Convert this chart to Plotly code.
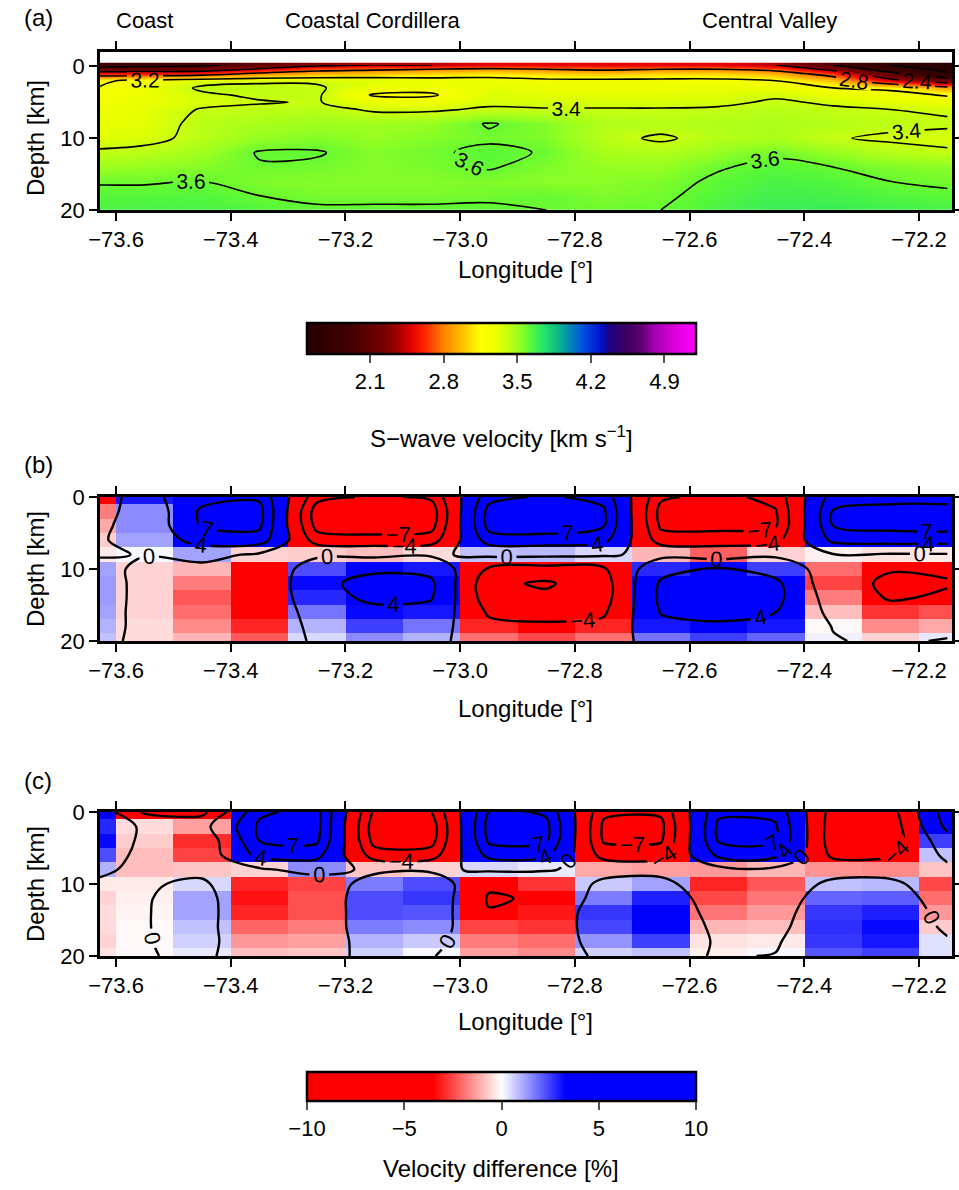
import plotly.graph_objects as go

# ---------------- data ----------------
LON = [-73.65, -73.55, -73.45, -73.35, -73.25, -73.15, -73.05, -72.95,
       -72.85, -72.75, -72.65, -72.55, -72.45, -72.35, -72.25, -72.15]

LON_TICKS = [-73.6, -73.4, -73.2, -73.0, -72.8, -72.6, -72.4, -72.2]
DEPTH_TICKS = [0, 10, 20]

# (a) S-wave velocity [km/s]; rows = depth nodes, columns = LON
DEPTH_A = [-0.2, 0.4, 1, 2, 3, 4, 5, 6, 8, 10, 12, 14, 16, 18, 20]
VS = [
    [1.90, 1.90, 1.95, 2.10, 2.30, 2.40, 2.40, 2.50, 2.50, 2.50, 2.50, 2.50, 2.40, 2.00, 1.60, 1.50],
    [2.10, 2.15, 2.20, 2.45, 2.70, 2.75, 2.80, 2.85, 2.80, 2.75, 2.80, 2.80, 2.70, 2.30, 1.80, 1.50],
    [2.60, 2.60, 2.65, 2.85, 2.95, 3.00, 3.05, 3.10, 3.05, 3.00, 3.05, 3.05, 2.95, 2.65, 2.10, 1.65],
    [3.15, 3.25, 3.35, 3.38, 3.38, 3.35, 3.30, 3.28, 3.25, 3.25, 3.25, 3.25, 3.20, 3.00, 2.50, 2.20],
    [3.18, 3.30, 3.42, 3.43, 3.42, 3.30, 3.25, 3.32, 3.30, 3.30, 3.30, 3.31, 3.30, 3.20, 3.15, 2.90],
    [3.20, 3.30, 3.38, 3.42, 3.42, 3.18, 3.18, 3.35, 3.33, 3.33, 3.33, 3.34, 3.38, 3.30, 3.28, 3.18],
    [3.25, 3.30, 3.36, 3.39, 3.41, 3.30, 3.28, 3.37, 3.36, 3.36, 3.36, 3.37, 3.42, 3.38, 3.33, 3.30],
    [3.28, 3.32, 3.41, 3.43, 3.45, 3.38, 3.38, 3.42, 3.41, 3.41, 3.41, 3.42, 3.44, 3.42, 3.40, 3.38],
    [3.30, 3.33, 3.44, 3.48, 3.50, 3.50, 3.52, 3.61, 3.55, 3.46, 3.45, 3.46, 3.47, 3.45, 3.43, 3.42],
    [3.33, 3.36, 3.44, 3.52, 3.55, 3.52, 3.55, 3.58, 3.56, 3.44, 3.38, 3.45, 3.47, 3.41, 3.38, 3.36],
    [3.42, 3.44, 3.50, 3.61, 3.61, 3.55, 3.58, 3.63, 3.59, 3.48, 3.46, 3.52, 3.58, 3.52, 3.45, 3.42],
    [3.50, 3.52, 3.55, 3.59, 3.58, 3.55, 3.57, 3.61, 3.56, 3.52, 3.52, 3.59, 3.63, 3.60, 3.56, 3.54],
    [3.59, 3.59, 3.60, 3.56, 3.55, 3.55, 3.55, 3.56, 3.54, 3.54, 3.56, 3.62, 3.66, 3.64, 3.60, 3.58],
    [3.63, 3.63, 3.64, 3.60, 3.57, 3.57, 3.57, 3.58, 3.60, 3.56, 3.58, 3.64, 3.68, 3.67, 3.64, 3.62],
    [3.66, 3.66, 3.66, 3.64, 3.62, 3.62, 3.62, 3.62, 3.60, 3.59, 3.60, 3.66, 3.70, 3.70, 3.68, 3.66],
]

# (b), (c) velocity difference [%]
DEPTH_BC = [0, 2, 4, 6, 8, 10, 12, 14, 16, 18, 20]
DV_B = [
    [-4.5, 3.0, 6.0, 6.5, -6.0, -7.5, -6.5, 6.0, 7.5, 6.0, -6.5, -8.0, -6.0, 5.5, 6.0, 6.0],
    [-1.8, 1.5, 7.5, 8.0, -8.5, -9.0, -8.5, 8.0, 9.0, 7.5, -8.0, -8.5, -7.2, 7.2, 8.0, 8.0],
    [-1.2, 1.5, 7.3, 7.5, -8.0, -8.5, -8.0, 8.0, 8.5, 7.2, -7.5, -8.0, -7.2, 7.0, 7.8, 8.0],
    [-0.7, 1.2, 5.5, 5.8, -5.5, -6.0, -5.5, 5.5, 5.8, 5.0, -5.5, -5.2, -5.0, 4.8, 5.5, 5.5],
    [-0.3, 0.1, 1.2, -0.6, -0.7, -0.9, -0.5, 0.8, 0.9, 0.5, -1.0, -2.2, -0.6, -0.2, -0.4, -0.3],
    [1.2, -0.6, -1.0, -3.6, 2.3, 3.5, 3.0, -4.5, -5.5, -4.5, 2.8, 4.5, 2.5, -2.0, -3.8, -3.6],
    [1.3, -0.6, -1.8, -3.8, 3.2, 5.0, 4.6, -6.5, -7.3, -5.5, 4.5, 6.0, 4.8, -2.6, -4.6, -4.2],
    [1.3, -0.6, -2.3, -3.8, 2.8, 4.6, 4.2, -6.0, -6.5, -5.5, 4.8, 6.5, 5.0, -1.8, -4.3, -3.6],
    [1.2, -0.6, -2.0, -3.6, 1.8, 3.2, 3.0, -4.5, -5.0, -4.5, 4.2, 5.2, 4.0, -0.9, -2.8, -2.4],
    [1.0, -0.5, -1.6, -3.0, 1.0, 2.5, 1.8, -3.0, -3.5, -3.0, 3.0, 3.3, 3.0, -0.1, -1.6, -1.2],
    [0.8, -0.5, -1.0, -2.3, 0.5, 1.5, 1.0, -2.0, -2.5, -2.0, 1.8, 2.5, 2.0, 0.2, -0.6, 0.3],
]
DV_C = [
    [4.0, -4.5, -5.0, 6.5, 8.0, -7.5, -7.0, 7.0, 6.5, -6.5, -6.5, 6.5, 6.3, -5.5, -5.5, 6.0],
    [2.8, -0.5, -1.3, 7.5, 8.0, -8.5, -8.5, 8.0, 7.8, -7.5, -7.8, 7.5, 7.3, -6.0, -6.2, 5.0],
    [3.2, -0.7, -2.9, 7.0, 7.5, -8.0, -8.0, 7.5, 7.3, -7.3, -7.3, 7.2, 7.3, -6.0, -6.0, 2.5],
    [2.3, -0.9, -2.6, 5.0, 5.0, -5.5, -5.5, 5.0, 4.5, -5.2, -5.2, 4.8, 4.8, -4.8, -4.5, 0.8],
    [1.0, -0.9, -0.8, -0.6, 1.5, -0.8, -0.6, 0.5, 0.3, -1.2, -1.3, -1.4, -1.0, -1.5, -1.6, -0.8],
    [-0.3, -0.3, 0.5, -3.0, -2.6, 1.7, 2.3, -3.5, -2.8, 0.7, 1.2, -3.0, -2.3, 0.8, 0.9, -2.5],
    [-0.6, -0.2, 1.2, -3.3, -2.4, 2.3, 2.6, -4.3, -3.6, 1.7, 2.9, -2.5, -1.9, 2.0, 2.1, -2.0],
    [-0.5, -0.15, 1.2, -3.0, -2.4, 2.3, 2.2, -3.8, -3.2, 2.6, 3.8, -1.9, -1.4, 2.6, 2.9, -1.4],
    [-0.5, -0.1, 0.8, -2.1, -1.8, 1.7, 1.5, -2.6, -2.8, 2.4, 3.6, -1.0, -0.9, 2.7, 3.2, -0.7],
    [-0.6, -0.1, 0.6, -1.4, -1.3, 1.0, 0.7, -1.8, -2.0, 1.4, 2.5, -0.4, -0.3, 2.6, 3.0, 0.4],
    [-0.4, -0.1, 0.3, -0.9, -0.8, 0.6, 0.1, -1.3, -1.6, 0.6, 0.8, -0.2, 0.1, 2.2, 2.5, 0.4],
]

REGIONS = ["Coast", "Coastal Cordillera", "Central Valley"]
REGION_LON = [-73.55, -73.152, -72.46]

VS_TICKS = [2.1, 2.8, 3.5, 4.2, 4.9]
DV_TICKS = [-10, -5, 0, 5, 10]

# ---------------- styling ----------------
W, H = 959, 1190
FONT = "Liberation Sans"

VS_SCALE = [[0, '#280000'], [0.11, '#400000'], [0.21, '#800000'], [0.24, '#b00000'],
            [0.265, '#e00000'], [0.30, '#ff2000'], [0.35, '#ff8000'], [0.40, '#ffc000'],
            [0.445, '#ffff00'], [0.49, '#eaff00'], [0.515, '#c8ff10'], [0.545, '#98ff20'],
            [0.575, '#58f838'], [0.605, '#28e868'], [0.64, '#10c080'], [0.67, '#0090b0'],
            [0.71, '#0050e0'], [0.755, '#0010d0'], [0.78, '#200080'], [0.825, '#400060'],
            [0.86, '#600070'], [0.89, '#a000b0'], [0.93, '#d000d0'], [1, '#ff00ff']]
DV_SCALE = [[0, '#ff0000'], [0.325, '#ff0000'], [0.5, '#ffffff'], [0.665, '#0000ff'], [1, '#0000ff']]


def px_x(p):
    return p / W


def px_y(p):
    return 1 - p / H


X_DOM = [px_x(100), px_x(952)]
PANELS = [  # (top px, bottom px)
    (52, 210), (497, 641), (812, 956)
]

fig = go.Figure()

# panel (a)
fig.add_trace(go.Heatmap(x=LON, y=DEPTH_A, z=VS, coloraxis='coloraxis', zsmooth='best',
                         xaxis='x', yaxis='y', hoverinfo='skip'))
for start, end, size in [(1.6, 3.2, 0.4), (3.4, 3.6, 0.2)]:
    fig.add_trace(go.Contour(x=LON, y=DEPTH_A, z=VS, xaxis='x', yaxis='y', showscale=False,
                             contours=dict(start=start, end=end, size=size, coloring='none',
                                           showlabels=True, labelformat='.1f',
                                           labelfont=dict(size=21, color='black', family=FONT)),
                             line=dict(color='black', width=1.6), hoverinfo='skip'))

# panels (b), (c)
for k, grid in [(2, DV_B), (3, DV_C)]:
    fig.add_trace(go.Heatmap(x=LON, y=DEPTH_BC, z=grid, coloraxis='coloraxis2',
                             xaxis='x%d' % k, yaxis='y%d' % k, hoverinfo='skip'))
    for start, end, size in [(-7, 7, 14), (-4, 4, 8), (0, 0, 1)]:
        fig.add_trace(go.Contour(x=LON, y=DEPTH_BC, z=grid, xaxis='x%d' % k, yaxis='y%d' % k,
                                 showscale=False,
                                 contours=dict(start=start, end=end, size=size, coloring='none',
                                               showlabels=True, labelformat='.0f',
                                               labelfont=dict(size=22, color='black', family=FONT)),
                                 line=dict(color='black', width=2.4), hoverinfo='skip'))

axis_common = dict(showline=True, mirror='ticks', linewidth=2.5, linecolor='black',
                   ticks='outside', ticklen=8, tickwidth=1.5, tickcolor='black',
                   showgrid=False, zeroline=False, tickfont=dict(size=22, color='black', family=FONT))

layout = dict(width=W, height=H, margin=dict(l=0, r=0, t=0, b=0, autoexpand=False),
              paper_bgcolor='white', plot_bgcolor='white',
              font=dict(family=FONT, color='black'), showlegend=False)

yranges = [[20, -2], [20, 0], [20, 0]]
for i, (top, bot) in enumerate(PANELS):
    sfx = '' if i == 0 else str(i + 1)
    layout['xaxis' + sfx] = dict(domain=X_DOM, range=[-73.628, -72.1425], tickmode='array',
                                 tickvals=LON_TICKS, tickformat='.1f',
                                 anchor='y' + sfx, **axis_common)
    layout['yaxis' + sfx] = dict(domain=[px_y(bot), px_y(top)], range=yranges[i],
                                 tickmode='array', tickvals=DEPTH_TICKS,
                                 anchor='x' + sfx, **axis_common)

cb_common = dict(orientation='h', x=px_x(307), xanchor='left', yanchor='top',
                 len=389, lenmode='pixels', thicknessmode='pixels',
                 outlinewidth=2.5, outlinecolor='black', ticks='outside', ticklen=8,
                 tickwidth=1.5, tickcolor='#555', xpad=0, ypad=0,
                 tickfont=dict(size=22, color='black', family=FONT))
layout['coloraxis'] = dict(colorscale=VS_SCALE, cmin=1.5, cmax=5.2,
                           colorbar=dict(y=px_y(323), thickness=31, tickvals=VS_TICKS,
                                         tickmode='array', **cb_common))
layout['coloraxis2'] = dict(colorscale=DV_SCALE, cmin=-10, cmax=10,
                            colorbar=dict(y=px_y(1072), thickness=29, tickvals=DV_TICKS,
                                          tickmode='array', **cb_common))

ann = []
for lab, ypx in [("(a)", 18), ("(b)", 465), ("(c)", 780)]:
    ann.append(dict(text=lab, x=px_x(38), y=px_y(ypx), xref='paper', yref='paper',
                    showarrow=False, font=dict(size=24), xanchor='center', yanchor='middle'))
for (top, bot), ly in zip(PANELS, [270, 708, 1022]):
    ann.append(dict(text="Longitude [°]", x=px_x(525), y=px_y(ly), xref='paper', yref='paper',
                    showarrow=False, font=dict(size=24), xanchor='center', yanchor='middle'))
    ann.append(dict(text="Depth [km]", x=px_x(35), y=px_y((top + bot) / 2 + (7 if top == 52 else 0)),
                    xref='paper', yref='paper', textangle=-90,
                    showarrow=False, font=dict(size=24), xanchor='center', yanchor='middle'))
for name, lon in zip(REGIONS, REGION_LON):
    ann.append(dict(text=name, x=lon, y=px_y(20), xref='x', yref='paper', showarrow=False,
                    font=dict(size=22), xanchor='center', yanchor='middle'))
ann.append(dict(text="S−wave velocity [km s<sup>−1</sup>]", x=px_x(501), y=px_y(437),
                xref='paper', yref='paper', showarrow=False, font=dict(size=24),
                xanchor='center', yanchor='middle'))
ann.append(dict(text="Velocity difference [%]", x=px_x(501), y=px_y(1168),
                xref='paper', yref='paper', showarrow=False, font=dict(size=24),
                xanchor='center', yanchor='middle'))
layout['annotations'] = ann

fig.update_layout(**layout)
fig.write_html("out.html")
